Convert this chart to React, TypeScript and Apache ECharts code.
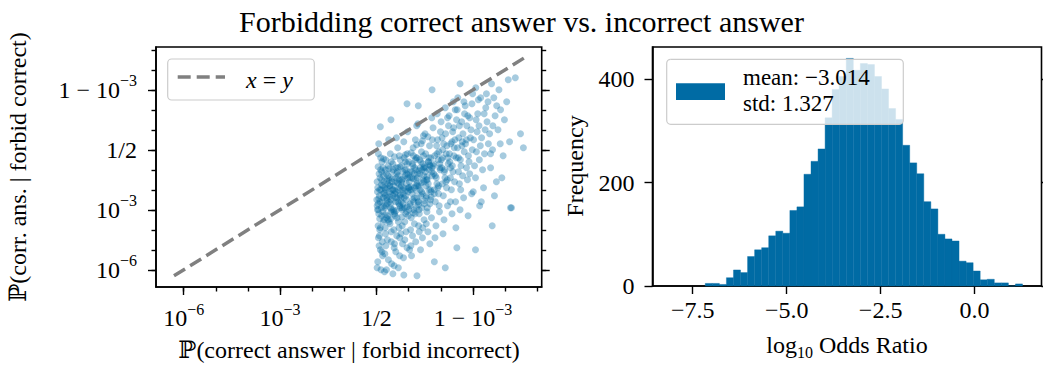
import React, { useEffect, useRef } from 'react';
import * as echarts from 'echarts';

const FONT = "'Liberation Serif', 'DejaVu Serif', serif";
const BLUE = '#006BA4';
const GRAY = '#808080';

const titleText = 'Forbidding correct answer vs. incorrect answer';

// ---------- left panel (logit scale, values are log10(p/(1-p))) ----------
const logitRange = [-6.86, 5.14];
const logitTickValues = [-6, -3, 0, 3];
const logitTickLabels: [string, string][] = [['10', '−6'], ['10', '−3'], ['1/2', ''], ['1 − 10', '−3']];
const logitMinorValues = [-6, -5, -4, -3, -2, -1, 0, 1, 2, 3, 4, 5];
const identityLine = [[-6.3, -6.3], [4.6, 4.6]];
const leftXLabel = 'ℙ(correct answer | forbid incorrect)';
const leftYLabel = 'ℙ(corr. ans. | forbid correct)';

const scatterLogit: number[][] = [
  [0.03,-2.1],[0.11,-2.6],[0.19,-1.8],[0.07,-3.2],[0.15,-2.9],[0.22,-1.3],[0.05,-3.8],[0.13,-1.0],[0.21,-2.4],[0.09,-4.3],[0.17,-0.6],[0.02,-1.6],[0.24,-3.5],[0.12,-5.0],[0.06,-0.2],[0.18,-4.6],[0.10,-2.0],[0.23,-2.8],[0.04,-5.6],[0.16,-3.3],[0.08,-1.2],[0.20,-0.9],[0.14,-6.0],[0.01,-2.5],[0.25,-1.9],[0.12,-3.9],[0.07,0.3],[0.19,-5.3],[0.03,-3.0],[0.22,-2.2],[0.10,-4.0],[0.16,-1.5],[0.05,-2.7],[0.21,-3.6],[0.13,-0.4],[0.08,-4.8],
  [0.27,-2.3],[0.35,-1.7],[0.44,-2.9],[0.31,-3.4],[0.48,-1.1],[0.29,-0.5],[0.39,-2.6],[0.46,-4.1],[0.33,-1.9],[0.42,-3.7],[0.26,-5.2],[0.37,-0.8],[0.49,-2.0],[0.30,-2.8],[0.41,-1.4],[0.34,-4.5],[0.45,-3.1],[0.28,-1.0],[0.38,0.5],[0.47,-5.7],[0.32,-2.4],[0.43,-0.2],[0.36,-3.3],[0.27,-3.9],[0.40,-2.1],[0.48,-1.6],[0.31,-6.0],[0.44,-2.7],[0.35,-1.3],[0.29,-4.8],[0.46,-0.6],[0.39,-3.6],[0.33,-2.5],[0.42,-1.8],
  [0.52,-2.0],[0.61,-1.4],[0.70,-2.7],[0.56,-3.2],[0.66,-0.9],[0.73,-1.9],[0.54,-4.0],[0.63,-2.4],[0.71,-0.3],[0.58,-1.6],[0.68,-3.6],[0.51,-0.7],[0.60,-5.1],[0.74,-2.9],[0.57,-2.2],[0.65,-1.1],[0.72,-4.4],[0.53,-3.0],[0.62,0.6],[0.69,-1.7],[0.55,-5.8],[0.64,-3.4],[0.74,-0.5],[0.59,-2.6],[0.67,-1.3],[0.52,-1.0],[0.70,-3.9],[0.61,-2.1],[0.56,-4.7],[0.73,-2.3],[0.66,0.1],[0.58,-3.3],
  [0.77,-1.8],[0.86,-2.4],[0.94,-1.2],[0.80,-3.0],[0.90,-0.6],[0.98,-2.1],[0.79,-1.5],[0.88,-3.6],[0.96,-0.2],[0.83,-2.7],[0.92,-1.0],[0.76,-4.2],[0.85,0.4],[0.99,-3.3],[0.81,-2.0],[0.89,-1.3],[0.95,-4.9],[0.78,-0.8],[0.87,-2.9],[0.93,-1.7],[0.84,-5.4],[0.97,0.9],[0.80,-3.8],[0.91,-2.3],[0.86,-0.4],[0.77,-2.6],[0.94,-3.1],[0.82,-1.1],[0.99,-1.9],[0.88,-4.5],
  [1.02,-1.6],[1.11,-2.2],[1.19,-0.9],[1.05,-2.8],[1.15,-0.3],[1.23,-1.8],[1.08,-3.4],[1.17,-1.2],[1.01,-0.6],[1.13,-2.5],[1.21,0.5],[1.06,-4.0],[1.24,-2.9],[1.10,-1.4],[1.18,-3.7],[1.03,-2.0],[1.14,0.1],[1.22,-1.0],[1.07,-4.8],[1.16,-2.6],[1.12,-0.7],[1.20,-3.2],[1.04,-1.1],[1.25,1.2],[1.09,-5.3],[1.18,-1.9],[1.01,-3.0],[1.23,-0.4],
  [1.27,-1.4],[1.36,-2.0],[1.44,-0.7],[1.30,-2.6],[1.40,-0.1],[1.48,-1.6],[1.33,-3.2],[1.42,-1.0],[1.26,-0.4],[1.38,-2.3],[1.46,0.7],[1.31,-3.8],[1.49,-2.7],[1.35,-1.2],[1.43,-4.4],[1.28,-1.8],[1.39,0.3],[1.47,-0.9],[1.32,-3.0],[1.41,-2.1],[1.37,-5.0],[1.45,-1.5],[1.29,1.3],[1.34,-0.5],[1.48,-3.5],[1.26,-2.4],
  [1.52,-1.1],[1.61,-1.7],[1.69,-0.4],[1.55,-2.3],[1.65,0.2],[1.73,-1.3],[1.58,-2.9],[1.67,-0.8],[1.51,0.8],[1.63,-2.0],[1.71,-3.4],[1.56,-1.5],[1.74,0.5],[1.60,-4.1],[1.68,-2.5],[1.53,-0.2],[1.64,-1.0],[1.72,1.6],[1.57,-3.1],[1.66,-4.7],[1.62,-0.6],[1.70,-2.1],[1.54,-1.8],[1.73,-0.9],
  [1.77,-0.8],[1.86,-1.4],[1.94,-0.1],[1.80,-2.0],[1.90,0.5],[1.98,-1.0],[1.83,-2.6],[1.92,-0.5],[1.76,1.1],[1.88,-1.7],[1.96,-3.1],[1.81,-0.3],[1.99,0.9],[1.85,-3.8],[1.93,-2.2],[1.78,-1.2],[1.89,1.8],[1.97,-0.7],[1.82,-4.4],[1.91,-1.9],[1.87,0.2],[1.95,-2.8],
  [2.02,-0.5],[2.11,-1.1],[2.19,0.2],[2.05,-1.7],[2.15,0.8],[2.23,-0.7],[2.08,-2.3],[2.17,-0.2],[2.01,1.4],[2.13,-1.4],[2.21,-2.8],[2.06,0.0],[2.24,1.2],[2.10,-3.5],[2.18,-1.9],[2.03,-0.9],[2.14,2.1],[2.22,-0.4],[2.07,-4.2],[2.16,-1.6],
  [2.27,-0.2],[2.36,-0.8],[2.44,0.5],[2.30,-1.4],[2.40,1.1],[2.48,-0.4],[2.33,-2.0],[2.42,0.1],[2.26,1.7],[2.38,-1.1],[2.46,-2.6],[2.31,0.3],[2.49,1.5],[2.35,-3.2],[2.43,-1.6],[2.28,-0.6],[2.39,2.4],[2.47,-3.9],
  [2.52,0.1],[2.61,-0.5],[2.69,0.8],[2.55,-1.1],[2.65,1.4],[2.73,-0.1],[2.58,-1.7],[2.67,0.4],[2.51,2.0],[2.63,-0.8],[2.71,-2.4],[2.56,0.6],[2.74,1.8],[2.60,-3.0],[2.68,-1.3],[2.53,2.6],
  [2.77,0.3],[2.86,-0.3],[2.94,1.0],[2.80,-0.9],[2.90,1.6],[2.98,0.0],[2.83,-1.5],[2.92,0.6],[2.76,2.2],[2.88,-0.6],[2.96,-2.2],[2.81,1.2],[2.99,2.8],[2.85,-3.3],
  [3.02,0.5],[3.11,-0.1],[3.19,1.2],[3.05,-0.8],[3.15,1.8],[3.23,0.2],[3.08,-1.4],[3.17,2.5],[3.01,-2.1],[3.13,0.9],[3.21,-2.8],[3.09,3.1],
  [3.27,0.6],[3.36,-0.2],[3.44,1.4],[3.30,-1.0],[3.40,2.1],[3.48,0.3],[3.33,-1.9],[3.42,2.8],[3.26,-2.6],[3.38,1.0],
  [3.52,0.8],[3.61,0.0],[3.69,1.7],[3.55,-0.9],[3.65,2.6],[3.73,-1.6],[3.58,3.3],[3.67,-2.3],
  [3.78,1.0],[3.86,2.0],[3.94,-0.3],[3.81,3.0],[3.90,-1.4],[3.98,1.5],
  [4.05,2.4],[4.14,0.4],[4.20,-2.9],[4.10,3.5],
  [4.32,3.6],[4.48,0.8],[4.57,0.1],
  [0.12,1.15],[0.45,1.5],[0.95,2.3],[1.73,3.0],[2.6,3.3],[1.3,2.2],
  [0.85,-6.26],[1.26,-6.3],[2.14,-5.9],[3.08,-5.0],[2.5,-4.9],[1.8,-5.6],[3.6,-3.8],[4.17,-2.9],
  [0.04,-1.9],[0.09,-2.3],[0.14,-2.0],[0.18,-2.6],[0.23,-1.6],[0.06,-3.0],[0.11,-1.4],[0.20,-3.1],[0.02,-2.8],[0.16,-1.1],
  [0.28,-2.0],[0.33,-2.7],[0.38,-1.5],[0.43,-2.2],[0.47,-3.0],[0.30,-1.2],[0.36,-3.5],[0.41,-1.8],[0.45,-2.5],[0.26,-2.9],
  [0.53,-1.8],[0.58,-2.4],[0.63,-1.2],[0.68,-2.0],[0.72,-2.8],[0.55,-3.1],[0.60,-0.9],[0.66,-2.6],[0.71,-1.5],[0.51,-2.3],
  [0.78,-1.6],[0.83,-2.2],[0.88,-1.0],[0.93,-2.5],[0.97,-1.4],[0.80,-2.9],[0.85,-1.9],[0.91,-3.2],[0.96,-0.7],[0.76,-2.4],
  [1.03,-1.4],[1.08,-2.0],[1.13,-0.8],[1.18,-2.4],[1.22,-1.5],[1.05,-2.7],[1.10,-1.1],[1.16,-3.0],[1.21,-0.5],[1.01,-1.9],
  [1.28,-1.2],[1.33,-1.8],[1.38,-0.6],[1.43,-2.2],[1.47,-1.3],[1.30,-2.6],[1.36,-0.9],[1.41,-2.9],[1.46,-0.3],[1.26,-1.7],
  [1.53,-0.9],[1.58,-1.5],[1.63,-0.4],[1.68,-2.0],[1.72,-1.1],[1.55,-2.4],[1.61,-0.6],[1.66,-2.7],
  [1.78,-0.7],[1.83,-1.3],[1.88,-0.2],[1.93,-1.8],[1.97,-0.9],[1.80,-2.2],
  [2.05,-0.4],[2.12,-1.0],[2.20,-1.5],[2.09,0.3],[2.30,-0.9],[2.41,-0.3],[2.35,0.4],[2.55,-0.4],[2.66,0.2],[2.80,0.5],
  [0.07,-2.45],[0.15,-1.75],[0.24,-2.15],[0.32,-1.55],[0.40,-2.35],[0.49,-1.45],[0.57,-2.05],[0.65,-1.65],[0.74,-2.25],[0.82,-1.45],
  [0.90,-2.05],[0.99,-1.25],[1.07,-1.85],[1.15,-1.45],[1.24,-2.05],[1.32,-1.05],[1.40,-1.65],[1.49,-0.85],[1.57,-1.35],[1.65,-0.75],
  [0.10,-3.45],[0.27,-3.25],[0.44,-3.45],[0.61,-3.05],[0.79,-3.35],[0.96,-2.85],[1.14,-3.15],[1.31,-2.75],[1.49,-2.55],[1.70,-2.35],
  [0.05,-0.85],[0.22,-0.45],[0.39,-0.95],[0.56,-0.35],[0.73,-0.85],[0.90,-0.25],[1.08,-0.15],[1.25,0.25],[1.43,0.45],[1.60,0.65],
  [0.06,-4.4],[0.17,-5.1],[0.28,-4.2],[0.37,-5.5],[0.46,-4.6],[0.55,-4.9],[0.63,-4.3],[0.72,-5.3],[0.81,-4.7],[0.92,-4.1],
  [1.03,-5.0],[1.12,-4.3],[1.22,-4.6],[1.33,-4.1],[1.44,-3.9],[1.55,-3.7],[0.02,-5.9],[0.25,-6.1],[0.51,-6.2],[0.68,-5.9],
  [2.04,0.6],[2.21,1.6],[2.37,0.9],[2.45,2.0],[2.58,1.2],[2.72,2.4],[2.84,1.7],[2.97,2.3],[3.10,1.5],[3.24,2.6],
  [3.35,1.8],[3.47,2.4],[3.62,1.2],[3.74,2.2],[2.30,-2.6],[2.62,-2.0],[2.90,-1.2],[3.20,-0.5],[3.55,-0.2],[3.85,0.3],
];

// ---------- right panel (histogram of log10 odds ratio) ----------
const histBinStart = -7.166;
const histBinWidth = 0.18756;
const histCounts = [
  5, 5, 3, 16, 31, 26, 57, 70, 74, 97, 106, 102, 146, 153, 216, 241, 265, 325, 380, 405,
  440, 417, 430, 428, 405, 381, 343, 322, 272, 238, 217, 163, 149, 100, 91, 87, 48, 45, 29, 12,
  13, 6, 6, 0, 4,
];
const histXRange = [-8.57, 1.78];
const histXTicks = [-7.5, -5.0, -2.5, 0.0];
const histYTicks = [0, 200, 400];
const histYMax = 462;
const histMean = '−3.014';
const histStd = '1.327';
const rightXLabel = 'log';
const rightXLabelSub = '10';
const rightXLabelRest = ' Odds Ratio';
const rightYLabel = 'Frequency';
const legendLineLabel = ['x', ' = ', 'y'];

const LEFT_GRID = { left: 156, top: 47, width: 385.7, height: 240 };
const RIGHT_GRID = { left: 652.5, top: 47, width: 389, height: 239 };

const tickStyle = (len: number, vals: number[], show = true) => ({
  show,
  customValues: vals,
  length: len,
  lineStyle: { color: '#000', width: 1.4 },
});

const noLine = { show: false };

const logitRich = {
  b: { fontFamily: FONT, fontSize: 24, lineHeight: 34, color: '#000' },
  s: { fontFamily: FONT, fontSize: 16, lineHeight: 16, verticalAlign: 'top', color: '#000' },
};

const logitFormatter = (v: number) => {
  const i = logitTickValues.indexOf(Math.round(v));
  if (i < 0) return '';
  const [b, s] = logitTickLabels[i];
  return s ? `{b|${b}}{s|${s}}` : `{b|${b}}`;
};

const fmtSigned = (v: number) => (v < 0 ? '−' : '') + Math.abs(v).toFixed(1);

export default function App() {
  const ref = useRef<HTMLDivElement>(null);

  useEffect(() => {
    document.body.style.margin = '0';
    if (!ref.current) return;
    const chart = echarts.init(ref.current, undefined, { renderer: 'svg' });

    const histData = histCounts.map((c, i) => [
      histBinStart + i * histBinWidth,
      histBinStart + (i + 1) * histBinWidth,
      c,
    ]);

    const baseLogitAxis = {
      type: 'value',
      min: logitRange[0],
      max: logitRange[1],
      splitLine: { show: false },
    };

    const option: any = {
      animation: false,
      backgroundColor: '#fff',
      title: {
        text: titleText,
        left: 'center',
        top: 1,
        textStyle: { fontFamily: FONT, fontSize: 30, fontWeight: 'normal', color: '#000' },
      },
      grid: [
        { ...LEFT_GRID, show: true, borderColor: '#000', borderWidth: 1.6, backgroundColor: 'transparent' },
        { ...RIGHT_GRID, show: true, borderColor: '#000', borderWidth: 1.6, backgroundColor: 'transparent' },
      ],
      xAxis: [
        {
          ...baseLogitAxis,
          gridIndex: 0,
          position: 'bottom',
          axisLine: { show: true, onZero: false, lineStyle: { color: '#000', width: 1.6 } },
          axisTick: tickStyle(8, logitTickValues),
          axisLabel: {
            customValues: logitTickValues,
            margin: 14,
            formatter: logitFormatter,
            rich: logitRich,
          },
        },
        {
          ...baseLogitAxis,
          gridIndex: 0,
          position: 'bottom',
          axisLine: { ...noLine, onZero: false },
          axisTick: tickStyle(4.5, logitMinorValues),
          axisLabel: { show: false },
        },
        {
          type: 'value',
          gridIndex: 1,
          min: histXRange[0],
          max: histXRange[1],
          position: 'bottom',
          splitLine: { show: false },
          axisLine: { show: true, onZero: false, lineStyle: { color: '#000', width: 1.6 } },
          axisTick: tickStyle(8, histXTicks),
          axisLabel: {
            customValues: histXTicks,
            margin: 12,
            formatter: fmtSigned,
            fontFamily: FONT,
            fontSize: 24,
            color: '#000',
          },
        },
      ],
      yAxis: [
        {
          ...baseLogitAxis,
          gridIndex: 0,
          position: 'left',
          axisLine: { show: true, onZero: false, lineStyle: { color: '#000', width: 1.6 } },
          axisTick: tickStyle(8, logitTickValues),
          axisLabel: {
            customValues: logitTickValues,
            margin: 19,
            formatter: logitFormatter,
            rich: logitRich,
          },
        },
        {
          ...baseLogitAxis,
          gridIndex: 0,
          position: 'left',
          axisLine: { ...noLine, onZero: false },
          axisTick: tickStyle(4.5, logitMinorValues),
          axisLabel: { show: false },
        },
        {
          ...baseLogitAxis,
          gridIndex: 0,
          position: 'right',
          axisLine: { ...noLine, onZero: false },
          axisTick: tickStyle(8, logitTickValues),
          axisLabel: { show: false },
        },
        {
          ...baseLogitAxis,
          gridIndex: 0,
          position: 'right',
          axisLine: { ...noLine, onZero: false },
          axisTick: tickStyle(4.5, logitMinorValues),
          axisLabel: { show: false },
        },
        {
          type: 'value',
          gridIndex: 1,
          min: 0,
          max: histYMax,
          position: 'left',
          splitLine: { show: false },
          axisLine: { show: true, onZero: false, lineStyle: { color: '#000', width: 1.6 } },
          axisTick: tickStyle(8, histYTicks),
          axisLabel: { customValues: histYTicks, margin: 18, fontFamily: FONT, fontSize: 24, color: '#000' },
        },
        {
          type: 'value',
          gridIndex: 1,
          min: 0,
          max: histYMax,
          position: 'right',
          splitLine: { show: false },
          axisLine: { show: false, onZero: false },
          axisTick: tickStyle(8, histYTicks),
          axisLabel: { show: false },
        },
      ],
      series: [
        {
          type: 'scatter',
          xAxisIndex: 0,
          yAxisIndex: 0,
          data: scatterLogit,
          symbolSize: 7,
          itemStyle: { color: BLUE, opacity: 0.35 },
          silent: true,
          z: 2,
        },
        {
          type: 'line',
          xAxisIndex: 0,
          yAxisIndex: 0,
          data: identityLine,
          showSymbol: false,
          symbol: 'none',
          lineStyle: { color: GRAY, width: 3.5, type: [13, 6] },
          silent: true,
          z: 5,
        },
        {
          type: 'custom',
          xAxisIndex: 2,
          yAxisIndex: 4,
          data: histData,
          encode: { x: [0, 1], y: 2 },
          silent: true,
          renderItem: (params: any, api: any) => {
            const p0 = api.coord([api.value(0), api.value(2)]);
            const p1 = api.coord([api.value(1), 0]);
            return {
              type: 'rect',
              shape: { x: p0[0], y: p0[1], width: p1[0] - p0[0], height: p1[1] - p0[1] },
              style: { fill: BLUE, stroke: BLUE, lineWidth: 0.4 },
            };
          },
        },
      ],
      graphic: [
        // left legend
        {
          type: 'rect', z: 100,
          shape: { x: 167.7, y: 59, width: 146.6, height: 41, r: 4 },
          style: { fill: 'rgba(255,255,255,0.8)', stroke: '#cccccc', lineWidth: 1.2 },
        },
        {
          type: 'line', z: 101,
          shape: { x1: 177.7, y1: 77, x2: 225, y2: 77 },
          style: { stroke: GRAY, lineWidth: 3.5, lineDash: [13, 6] },
        },
        {
          type: 'text', z: 101, x: 246, y: 80,
          style: {
            text: `{i|${legendLineLabel[0]}}{n|${legendLineLabel[1]}}{i|${legendLineLabel[2]}}`,
            verticalAlign: 'middle',
            rich: {
              i: { fontFamily: FONT, fontSize: 24, fontStyle: 'italic', fill: '#000' },
              n: { fontFamily: FONT, fontSize: 24, fill: '#000' },
            },
          },
        },
        // right legend
        {
          type: 'rect', z: 100,
          shape: { x: 666.7, y: 59.3, width: 236.6, height: 65, r: 4 },
          style: { fill: 'rgba(255,255,255,0.8)', stroke: '#cccccc', lineWidth: 1.2 },
        },
        {
          type: 'rect', z: 101,
          shape: { x: 676, y: 83.3, width: 49, height: 16.7 },
          style: { fill: BLUE },
        },
        {
          type: 'text', z: 101, x: 743, y: 90,
          style: {
            text: `mean: ${histMean}\nstd: ${histStd}`,
            font: `23px ${FONT}`, lineHeight: 26, fill: '#000', verticalAlign: 'middle',
          },
        },
        // axis titles
        {
          type: 'text', x: 349, y: 350,
          style: { text: leftXLabel, font: `24px ${FONT}`, fill: '#000', align: 'center', verticalAlign: 'middle' },
        },
        {
          type: 'text', x: 18, y: 167, rotation: Math.PI / 2,
          style: { text: leftYLabel, font: `24px ${FONT}`, fill: '#000', align: 'center', verticalAlign: 'middle' },
        },
        {
          type: 'text', x: 847, y: 345,
          style: {
            text: `{a|${rightXLabel}}{s|${rightXLabelSub}}{a|${rightXLabelRest}}`,
            align: 'center', verticalAlign: 'middle',
            rich: {
              a: { fontFamily: FONT, fontSize: 24, lineHeight: 30, fill: '#000' },
              s: { fontFamily: FONT, fontSize: 16, lineHeight: 16, verticalAlign: 'bottom', fill: '#000' },
            },
          },
        },
        {
          type: 'text', x: 575, y: 166, rotation: Math.PI / 2,
          style: { text: rightYLabel, font: `24px ${FONT}`, fill: '#000', align: 'center', verticalAlign: 'middle' },
        },
      ],
    };

    chart.setOption(option);
    return () => chart.dispose();
  }, []);

  return <div ref={ref} style={{ width: 1043, height: 365 }} />;
}
